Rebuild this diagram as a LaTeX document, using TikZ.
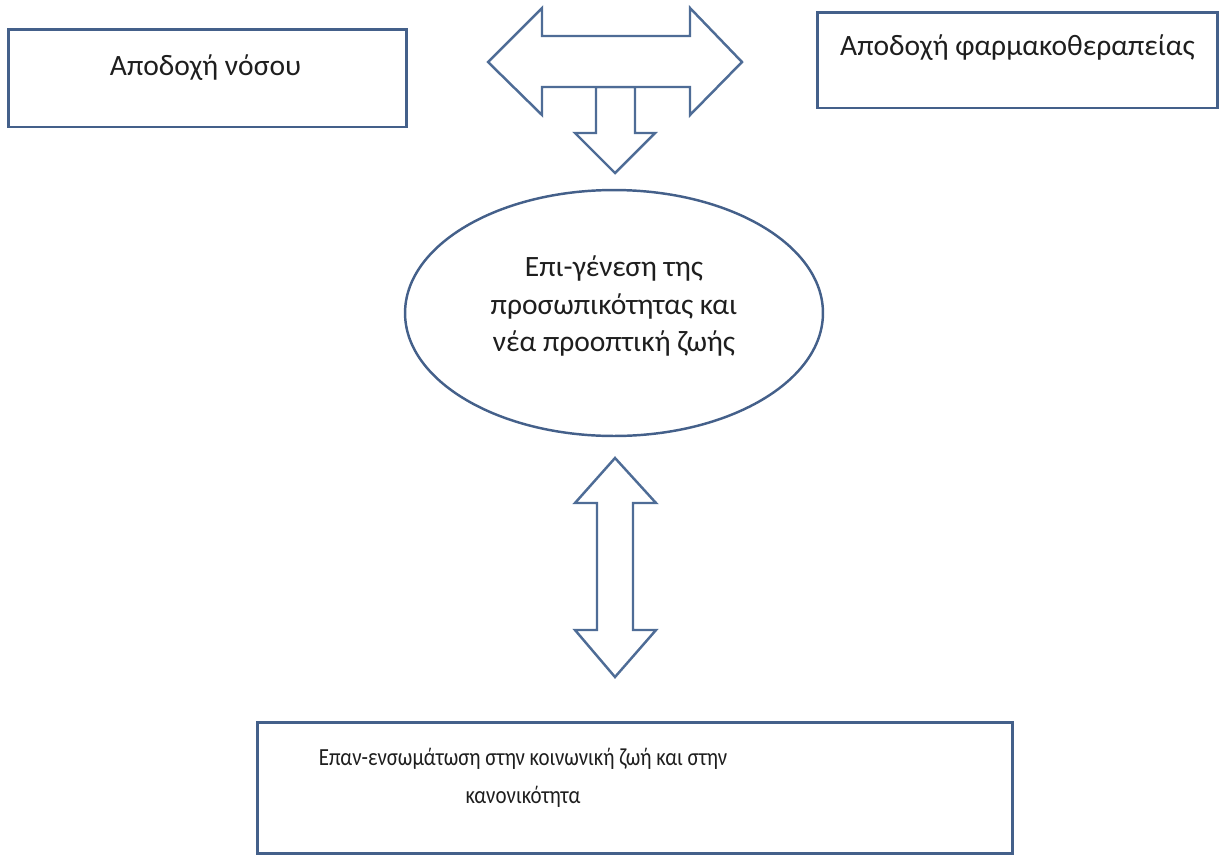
\documentclass[tikz,border=0pt]{standalone}
\usepackage{fontspec}
\setmainfont{Carlito}
\newfontfamily\narrowfont[FakeStretch=0.85]{Carlito}
\usepackage{xcolor}
\usetikzlibrary{shapes.geometric}
\definecolor{frameblue}{RGB}{68,96,138}
\definecolor{arrowblue}{RGB}{78,108,150}
\definecolor{inktext}{RGB}{30,30,30}

\tikzset{
    framebox/.style={draw=frameblue, line width=1.7pt, rectangle, inner sep=0pt},
    blockarrow/.style={draw=arrowblue, line width=1.4pt, fill=white, line join=miter},
    boxtext/.style={text=inktext, align=center, inner sep=0pt,
        font=\fontsize{16.8}{21.6}\selectfont}
}

\begin{document}
\begin{tikzpicture}[x=0.02cm, y=-0.02cm]
    \useasboundingbox (0,0) rectangle (1222,856);

    % Κουτιά αποδοχής
    \node[framebox, minimum width=7.98cm, minimum height=1.96cm] (nosos) at (207.5, 78) {};
    \node[boxtext] (nosostxt) at ([shift={(-2,-10)}]nosos.center) {Αποδοχή νόσου};

    \node[framebox, minimum width=8.02cm, minimum height=1.92cm] (farmako) at (1017.5, 60) {};
    \node[boxtext] (farmakotxt) at ([shift={(0,-12)}]farmako.center) {Αποδοχή φαρμακοθεραπείας};

    % Έλλειψη
    \node[ellipse, draw=frameblue, line width=1.4pt, minimum width=8.36cm, minimum height=4.92cm, inner sep=0pt] (genesi) at (614, 313) {};
    \node[boxtext] (genesitxt) at ([shift={(0,-7)}]genesi.center) {Επι-γένεση της\\προσωπικότητας και\\νέα προοπτική ζωής};

    % Κουτί επανένταξης
    \node[framebox, minimum width=15.12cm, minimum height=2.62cm] (entaxi) at (635, 787.5) {};
    \node[boxtext, font=\narrowfont\fontsize{14}{21.6}\selectfont] (entaxitxt) at ([shift={(-112,-10)}]entaxi.center) {Επαν-ενσωμάτωση στην κοινωνική ζωή και στην\\κανονικότητα};

    % Βέλη
    \draw[blockarrow] (596,87) -- (635,87) -- (635,133) -- (655,133) -- (615,173)
        -- (575,133) -- (596,133) -- cycle;
    \draw[blockarrow] (488,62) -- (542,8) -- (542,36) -- (690,36) -- (690,8) -- (742,62)
        -- (690,115) -- (690,87) -- (542,87) -- (542,115) -- cycle;
    \draw[blockarrow] (615,458) -- (656,503) -- (633,503) -- (633,630) -- (656,630)
        -- (615,677) -- (575,630) -- (597,630) -- (597,503) -- (575,503) -- cycle;
\end{tikzpicture}
\end{document}
